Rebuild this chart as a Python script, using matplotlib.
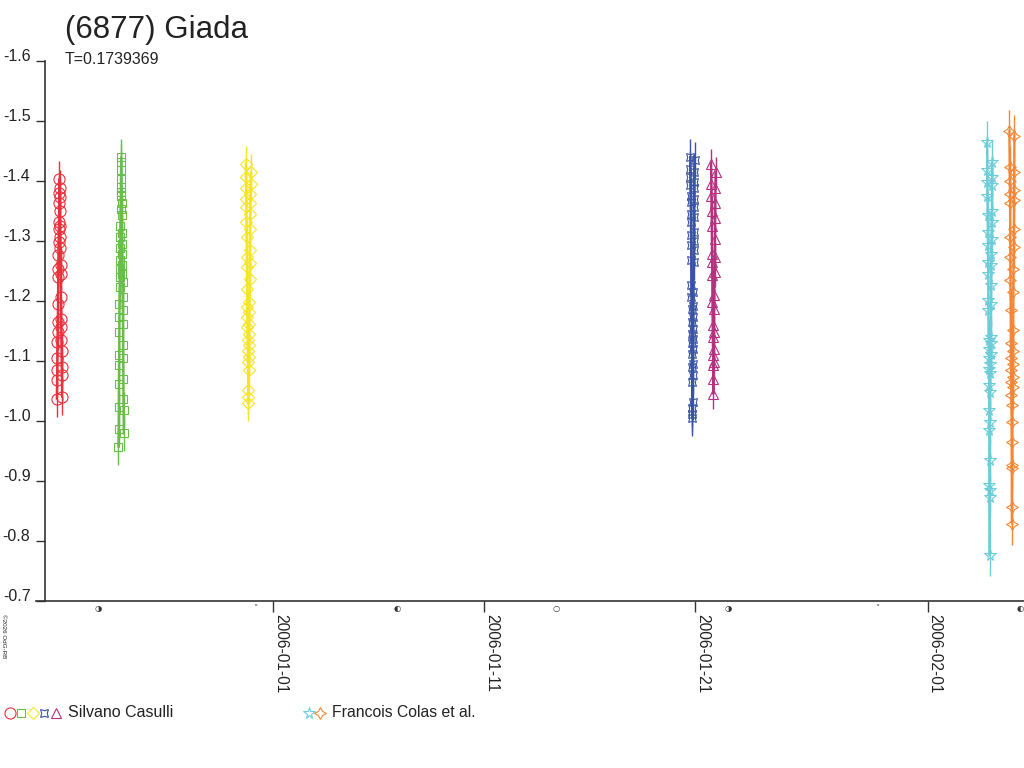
import datetime as dt
import matplotlib
matplotlib.use("Agg")
import matplotlib.pyplot as plt
import matplotlib.dates as mdates
from matplotlib.lines import Line2D

plt.rcParams['font.family'] = ['Liberation Sans', 'DejaVu Sans']

title = "(6877) Giada"
period_text = "T=0.1739369"
observers = ["Silvano Casulli", "Francois Colas et al."]

# start of each observing run, days after 2006-01-01 00:00 UT
red_start, green_start, yellow_start = -10.26, -7.34, -1.31
blue_start, magenta_start = 19.75, 20.74
cyan_start, orange_start = 33.82, 34.88

# Silvano Casulli
red_hr = [0.0, 0.2, 0.4, 0.55, 0.75, 0.95, 1.1, 1.3, 1.5, 1.7, 1.85, 2.05, 2.25, 2.4, 2.6, 2.8, 3.0,
          3.15, 3.35, 3.55, 3.7, 3.9, 4.1, 4.3, 4.45, 4.65, 4.85, 5.0, 5.2, 5.4, 5.6, 5.75, 5.95]
red_mag = [-1.037, -1.068, -1.084, -1.104, -1.131, -1.148, -1.165, -1.195, -1.239, -1.252, -1.276,
           -1.298, -1.320, -1.331, -1.363, -1.379, -1.403, -1.387, -1.373, -1.349, -1.325, -1.306,
           -1.287, -1.259, -1.245, -1.206, -1.170, -1.156, -1.134, -1.117, -1.090, -1.076, -1.040]

green_hr = [0.0, 0.15, 0.3, 0.45, 0.6, 0.75, 0.9, 1.05, 1.2, 1.35, 1.5, 1.65, 1.8, 1.95, 2.1, 2.25,
            2.4, 2.55, 2.7, 2.85, 3.0, 3.15, 3.3, 3.45, 3.6, 3.75, 3.9, 4.05, 4.2, 4.35, 4.5, 4.65,
            4.8, 4.95, 5.1, 5.25, 5.4, 5.55, 5.7, 5.85, 6.0]
green_mag = [-0.957, -0.987, -1.023, -1.062, -1.093, -1.109, -1.148, -1.173, -1.195, -1.223, -1.239,
             -1.253, -1.267, -1.287, -1.306, -1.325, -1.353, -1.375, -1.389, -1.417, -1.439,
             -1.431, -1.403, -1.381, -1.362, -1.342, -1.312, -1.295, -1.278, -1.259, -1.245,
             -1.231, -1.206, -1.184, -1.162, -1.126, -1.104, -1.070, -1.037, -1.018, -0.979]

yellow_hr = [0.0, 0.17, 0.34, 0.51, 0.68, 0.85, 1.02, 1.19, 1.36, 1.53, 1.70, 1.87, 2.04, 2.21,
             2.38, 2.55, 2.72, 2.89, 3.06, 3.23, 3.40, 3.57, 3.74, 3.91, 4.08, 4.25, 4.42, 4.59,
             4.76, 4.93, 5.10, 5.27, 5.44, 5.61, 5.78]
yellow_mag = [-1.428, -1.406, -1.387, -1.370, -1.356, -1.331, -1.306, -1.273, -1.256, -1.220, -1.190,
              -1.173, -1.156, -1.134, -1.117, -1.098, -1.051, -1.029, -1.040, -1.084, -1.106,
              -1.126, -1.145, -1.162, -1.181, -1.198, -1.237, -1.262, -1.284, -1.320, -1.345,
              -1.362, -1.378, -1.395, -1.414]

blue_hr = [0.0, 0.12, 0.24, 0.36, 0.48, 0.6, 0.72, 0.84, 0.96, 1.08, 1.2, 1.32, 1.44, 1.56, 1.68,
           1.8, 1.92, 2.04, 2.16, 2.28, 2.4, 2.52, 2.64, 2.76, 2.88, 3.0, 3.12, 3.24, 3.36, 3.48,
           3.6, 3.72, 3.84, 3.96, 4.08, 4.2, 4.32, 4.44, 4.56, 4.68, 4.8, 4.92, 5.04]
blue_mag = [-1.439, -1.420, -1.406, -1.392, -1.375, -1.364, -1.345, -1.331, -1.309, -1.292, -1.267,
            -1.226, -1.206, -1.187, -1.165, -1.145, -1.129, -1.112, -1.090, -1.065, -1.021, -1.004,
            -1.012, -1.032, -1.076, -1.095, -1.120, -1.137, -1.153, -1.173, -1.192, -1.215,
            -1.264, -1.284, -1.300, -1.314, -1.339, -1.356, -1.370, -1.387, -1.398, -1.414, -1.434]

magenta_hr = [0.0, 0.2, 0.4, 0.6, 0.8, 1.0, 1.2, 1.4, 1.6, 1.8, 2.0, 2.2, 2.4, 2.6, 2.8, 3.0, 3.2,
              3.4, 3.6, 3.8, 4.0, 4.2, 4.4, 4.6, 4.8, 5.0, 5.2]
magenta_mag = [-1.428, -1.395, -1.375, -1.350, -1.325, -1.278, -1.264, -1.242, -1.198, -1.159, -1.140,
               -1.109, -1.093, -1.045, -1.070, -1.098, -1.120, -1.148, -1.187, -1.209, -1.248,
               -1.273, -1.303, -1.337, -1.362, -1.387, -1.414]

# Francois Colas et al.
cyan_hr = [0.0, 0.15, 0.3, 0.45, 0.6, 0.75, 0.9, 1.05, 1.2, 1.35, 1.5, 1.65, 1.8, 1.95, 2.1, 2.25,
           2.4, 2.55, 2.7, 2.85, 3.0, 3.15, 3.3, 3.45, 3.6, 3.75, 3.9, 4.05, 4.2, 4.35, 4.5, 4.65,
           4.8, 4.95, 5.1, 5.25, 5.4, 5.55, 5.7, 5.85]
cyan_mag = [-1.464, -1.417, -1.398, -1.375, -1.342, -1.314, -1.292, -1.264, -1.245, -1.201, -1.184,
            -1.134, -1.120, -1.104, -1.087, -1.059, -1.018, -0.984, -0.893, -0.873, -0.776, -0.885,
            -0.934, -0.998, -1.048, -1.079, -1.095, -1.112, -1.129, -1.140, -1.195, -1.226,
            -1.259, -1.278, -1.303, -1.331, -1.350, -1.392, -1.406, -1.431]

orange_hr = [0.0, 0.17, 0.34, 0.51, 0.68, 0.85, 1.02, 1.19, 1.36, 1.53, 1.70, 1.87, 2.04, 2.21,
             2.38, 2.55, 2.72, 2.89, 3.06, 3.23, 3.40, 3.57, 3.74, 3.91, 4.08, 4.25, 4.42, 4.59,
             4.76, 4.93, 5.10, 5.27, 5.44, 5.61]
orange_mag = [-1.483, -1.422, -1.400, -1.378, -1.362, -1.306, -1.273, -1.234, -1.184, -1.129, -1.104,
              -1.084, -1.065, -1.043, -0.998, -0.926, -0.857, -0.829, -0.921, -0.965, -1.026,
              -1.056, -1.073, -1.095, -1.117, -1.151, -1.215, -1.253, -1.289, -1.320, -1.367,
              -1.384, -1.414, -1.475]

mag_err = {"red": 0.03, "green": 0.03, "yellow": 0.03, "blue": 0.03,
           "magenta": 0.025, "cyan": 0.035, "orange": 0.035}

tick_dates = ["2006-01-01", "2006-01-11", "2006-01-21", "2006-02-01"]
y_ticks = [-1.6, -1.5, -1.4, -1.3, -1.2, -1.1, -1.0, -0.9, -0.8, -0.7]

# moon phases shown under the axis (days after 2006-01-01)
moon_days = [-8.3, -0.87, 5.86, 13.4, 21.55, 28.6, 35.4]
moon_glyphs = ["◑", "˅", "◐", "○", "◑", "˅", "◐"]

colors = {"red": "#e8313b", "green": "#6abd4b", "yellow": "#f5e526", "blue": "#3a53a4",
          "magenta": "#b4317f", "cyan": "#6ccdd9", "orange": "#f58635"}
markers = {"red": ("o", 8), "green": ("s", 6), "yellow": ("D", 6.5), "blue": ((4, 1, 45), 8),
           "magenta": ("^", 7), "cyan": ("*", 8.5), "orange": ((4, 1, 0), 8.5)}

jan1 = mdates.date2num(dt.datetime(2006, 1, 1))

fig = plt.figure(figsize=(10.24, 7.68), dpi=100)
ax = fig.add_axes([45 / 1024, 1 - 601 / 768, 1 - 45 / 1024, (601 - 60.5) / 768])

series = [
    ("red", red_start, red_hr, red_mag),
    ("green", green_start, green_hr, green_mag),
    ("yellow", yellow_start, yellow_hr, yellow_mag),
    ("blue", blue_start, blue_hr, blue_mag),
    ("magenta", magenta_start, magenta_hr, magenta_mag),
    ("cyan", cyan_start, cyan_hr, cyan_mag),
    ("orange", orange_start, orange_hr, orange_mag),
]
for name, start, hrs, mags in series:
    x = [jan1 + start + h / 24 for h in hrs]
    c = colors[name]
    m, ms = markers[name]
    ax.errorbar(x, mags, yerr=mag_err[name], fmt="none", ecolor=c, elinewidth=1.0, capsize=0)
    ax.plot(x, mags, color=c, lw=1.6)
    ax.plot(x, mags, ls="none", marker=m, ms=ms, mfc="none", mec=c, mew=0.8)

ax.set_ylim(-0.7, -1.6)
ax.set_xlim(jan1 - 10.82, jan1 + 35.57)
ax.set_yticks(y_ticks)
ax.set_yticklabels([f"{v:.1f}" for v in y_ticks])
ax.set_xticks([mdates.date2num(dt.datetime.strptime(d, "%Y-%m-%d")) for d in tick_dates])
ax.set_xticklabels(tick_dates, rotation=270, ha="left", va="top")

for s in ["top", "right"]:
    ax.spines[s].set_visible(False)
for s in ["left", "bottom"]:
    ax.spines[s].set_color("#333333")
    ax.spines[s].set_linewidth(1.2)
ax.tick_params(axis="y", direction="out", length=6.5, width=1, color="#333333",
               labelsize=11.5, pad=4, labelcolor="#222222")
ax.tick_params(axis="x", direction="out", length=8, width=1, color="#333333",
               labelsize=11.2, pad=1.5, labelcolor="#222222")
for lab in ax.get_yticklabels():
    lab.set_verticalalignment("baseline")
ax.plot([-0.0095, 0], [0, 0], transform=ax.transAxes, color="#333333", lw=1.2, clip_on=False)

for d, g in zip(moon_days, moon_glyphs):
    ax.text(jan1 + d, -0.688, g, fontsize=6, ha="center", va="center", color="#333333",
            family=["DejaVu Sans"])

fig.text(65 / 1024, 1 - 38 / 768, title, fontsize=22.5, color="#222222", va="baseline")
fig.text(65 / 1024, 1 - 63.5 / 768, period_text, fontsize=11.5, color="#222222", va="baseline")
fig.text(1 / 1024, 1 - 614 / 768, "©2026 OdG-RB", fontsize=4.5, rotation=270, va="top", ha="left",
         color="#222222")

# legend row
legend_y = 1 - 713 / 768
group1 = [("red", 10), ("green", 21), ("yellow", 33), ("blue", 44), ("magenta", 56)]
group2 = [("cyan", 309), ("orange", 320)]
for name, px in group1 + group2:
    m, ms = markers[name]
    fig.add_artist(Line2D([px / 1024], [legend_y], transform=fig.transFigure, ls="none", marker=m,
                          ms=ms, mfc="none", mec=colors[name], mew=0.8))
fig.text(68 / 1024, 1 - 717 / 768, observers[0], fontsize=11.5, color="#222222", va="baseline")
fig.text(332 / 1024, 1 - 717 / 768, observers[1], fontsize=11.3, color="#222222", va="baseline")

fig.savefig("out.png", dpi=100)
